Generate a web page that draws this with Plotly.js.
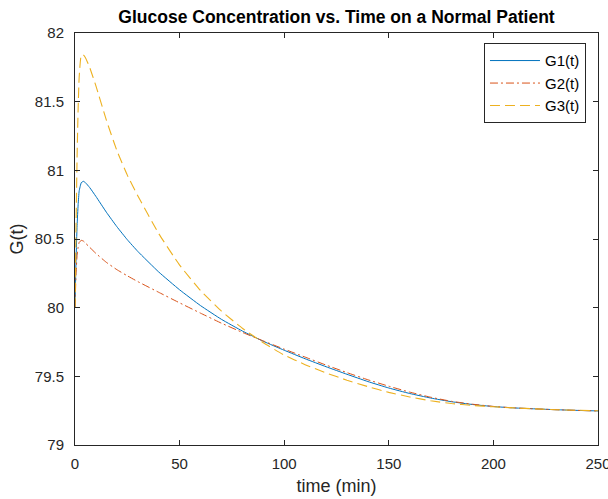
<!DOCTYPE html>
<html>
<head>
<meta charset="utf-8">
<script src="https://cdn.plot.ly/plotly-3.0.1.min.js"></script>
<style>html,body{margin:0;padding:0;background:#fff;}#chart{width:608px;height:499px;}</style>
</head>
<body>
<div id="chart"></div>
<script>
const time = [0,0.5,1,1.5,2,3,4,5,7,10,15,20,25,30,40,50,60,70,80,90,100,110,120,130,140,150,160,170,180,190,200,210,220,230,240,250];
const G1 = [80.0,80.35,80.6,80.75,80.85,80.91,80.92,80.91,80.875,80.81,80.695,80.59,80.495,80.41,80.26,80.13,80.015,79.915,79.83,79.755,79.69,79.628,79.57,79.515,79.462,79.415,79.375,79.342,79.315,79.295,79.28,79.27,79.263,79.257,79.252,79.248];
const G2 = [80.0,80.25,80.38,80.44,80.475,80.49,80.485,80.47,80.44,80.395,80.33,80.277,80.232,80.19,80.112,80.035,79.96,79.887,79.82,79.758,79.698,79.64,79.582,79.527,79.475,79.428,79.385,79.348,79.318,79.297,79.281,79.27,79.263,79.257,79.252,79.248];
const G3 = [80.0,80.6,81.1,81.45,81.68,81.84,81.84,81.82,81.75,81.615,81.365,81.145,80.965,80.815,80.54,80.31,80.125,79.975,79.85,79.745,79.655,79.585,79.525,79.472,79.425,79.383,79.35,79.322,79.302,79.288,79.278,79.27,79.263,79.257,79.253,79.249];
const names = ['G1(t)','G2(t)','G3(t)'];
const xTicks = [0,50,100,150,200,250];
const yTicks = [79,79.5,80,80.5,81,81.5,82];

const traces = [
  {x: time, y: G1, name: names[0], mode: 'lines', line: {color: '#0072BD', width: 1, shape: 'spline', smoothing: 0.4}},
  {x: time, y: G2, name: names[1], mode: 'lines', line: {color: '#D95319', width: 1, dash: '8px,3px,2px,3px', shape: 'spline', smoothing: 0.4}},
  {x: time, y: G3, name: names[2], mode: 'lines', line: {color: '#EDB120', width: 1.1, dash: '10px,5px', shape: 'spline', smoothing: 0.4}}
];

const axisCommon = {
  showgrid: false, zeroline: false, showline: true, mirror: 'ticks',
  linecolor: '#262626', linewidth: 1, ticks: 'inside', ticklen: 5, tickcolor: '#262626',
  ticklabeloverflow: 'allow',
  tickfont: {family: 'Liberation Sans, Arial, sans-serif', size: 15, color: '#262626'}
};

const layout = {
  width: 608, height: 499,
  margin: {l: 75, r: 10, t: 33, b: 54},
  paper_bgcolor: '#fff', plot_bgcolor: '#fff',
  font: {family: 'Liberation Sans, Arial, sans-serif', color: '#262626'},
  title: {text: '<b>Glucose Concentration vs. Time on a Normal Patient</b>', x: 0.5, xanchor: 'center', xref: 'paper', y: 0.966, yanchor: 'middle', yref: 'container', font: {size: 17.5, color: '#000'}},
  xaxis: Object.assign({}, axisCommon, {range: [0, 250], tickvals: xTicks, ticktext: xTicks.map(String), ticklabelstandoff: 5, title: {text: 'time (min)', font: {size: 18, color: '#262626'}, standoff: 8}}),
  yaxis: Object.assign({}, axisCommon, {range: [79, 82], tickvals: yTicks, ticktext: yTicks.map(String), ticklabelstandoff: 7, title: {text: 'G(t)', font: {size: 18, color: '#262626'}, standoff: 6}}),
  showlegend: true,
  legend: {x: 0.977, xanchor: 'right', y: 0.975, yanchor: 'top', bgcolor: '#fff', bordercolor: '#262626', borderwidth: 1, itemwidth: 50, font: {size: 15, color: '#000'}}
};

Plotly.newPlot('chart', traces, layout, {displayModeBar: false, staticPlot: true});
</script>
</body>
</html>
